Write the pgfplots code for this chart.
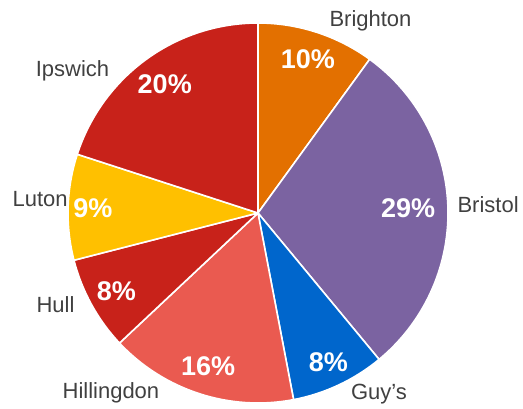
\documentclass[border=0pt]{standalone}
\usepackage{pgfplots}
\pgfplotsset{compat=1.18}
\usepackage{fontspec}
\setmainfont{Liberation Sans}
\definecolor{cBrighton}{HTML}{E37000}
\definecolor{cBristol}{HTML}{7B63A1}
\definecolor{cGuys}{HTML}{0066CC}
\definecolor{cHillingdon}{HTML}{EA5A50}
\definecolor{cHull}{HTML}{C8221A}
\definecolor{cLuton}{HTML}{FFC000}
\definecolor{cIpswich}{HTML}{C8221A}
\definecolor{labelgray}{HTML}{404040}
% #1 cumulative percent before the slice, #2 slice percent, #3 colour
\newcommand{\slice}[3]{%
  \fill[#3, draw=white, line width=1.6pt, line join=round]
    (axis cs:0,0) -- (axis cs:{cos(90-3.6*#1)},{sin(90-3.6*#1)})
    arc[start angle={90-3.6*#1}, end angle={90-3.6*(#1+#2)}, radius=190pt] -- cycle;}
% #1 cumulative, #2 percent, #3 radius fraction
\newcommand{\pctlabel}[3]{%
  \node[text=white, font=\fontsize{27}{30}\selectfont\bfseries, inner sep=0pt]
    at (axis cs:{#3*cos(90-3.6*(#1+#2/2))},{#3*sin(90-3.6*(#1+#2/2))}) {#2\%};}
\begin{document}
\begin{tikzpicture}[x=1pt,y=1pt]
\path[use as bounding box] (0,0) rectangle (523,408);
\begin{axis}[at={(258pt,195pt)}, anchor=origin, x=190pt, y=190pt,
  hide axis, clip=false, xmin=-1.35, xmax=1.39, ymin=-1.02, ymax=1.12]
\slice{0}{10}{cBrighton}
\slice{10}{29}{cBristol}
\slice{39}{8}{cGuys}
\slice{47}{16}{cHillingdon}
\slice{63}{8}{cHull}
\slice{71}{9}{cLuton}
\slice{80}{20}{cIpswich}
\pctlabel{0}{10}{0.85}
\pctlabel{10}{29}{0.79}
\pctlabel{39}{8}{0.87}
\pctlabel{47}{16}{0.85}
\pctlabel{63}{8}{0.85}
\pctlabel{71}{9}{0.87}
\pctlabel{80}{20}{0.835}
\begin{scope}[every node/.style={text=labelgray, font=\fontsize{22}{26}\selectfont, anchor=base, inner sep=0pt}]
\node at (axis cs:0.592,0.979) {Brighton};
\node at (axis cs:1.211,0.000) {Bristol};
\node at (axis cs:0.637,-0.984) {Guy’s};
\node at (axis cs:-0.774,-0.974) {Hillingdon};
\node at (axis cs:-1.066,-0.526) {Hull};
\node at (axis cs:-1.147,0.032) {Luton};
\node at (axis cs:-0.976,0.716) {Ipswich};
\end{scope}
\end{axis}
\end{tikzpicture}
\end{document}
